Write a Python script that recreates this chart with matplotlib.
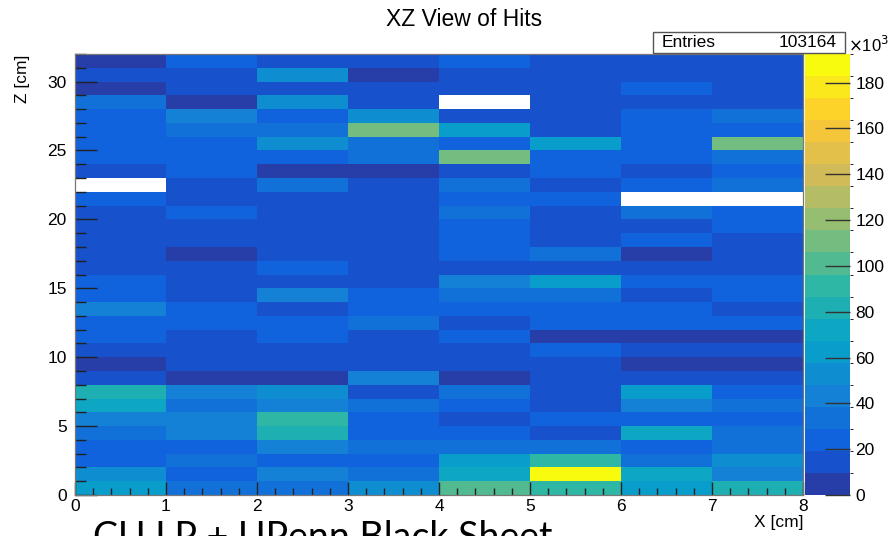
import numpy as np
import matplotlib
matplotlib.use("Agg")
import matplotlib.pyplot as plt
from matplotlib.colors import ListedColormap, BoundaryNorm

plt.rcParams['font.family'] = ['Liberation Sans', 'DejaVu Sans']

# bin edges (cm)
x_edges = np.arange(0, 9, 1)
z_edges = np.arange(0, 33, 1)

# hits per bin in units of 1e3, rows are z = 0 .. 31, columns x = 0 .. 7 (nan = empty bin)
nan = np.nan
hits = [
    [63, 34, 34, 53, 101, 91, 63, 82],      # z 0
    [53, 24, 43, 34, 72, 192.5, 72, 43],    # z 1
    [24, 34, 24, 24, 63, 91, 34, 53],       # z 2
    [24, 24, 43, 34, 34, 34, 24, 34],       # z 3
    [34, 43, 82, 24, 24, 14, 72, 34],       # z 4
    [43, 43, 91, 24, 14, 24, 24, 24],       # z 5
    [72, 34, 43, 34, 24, 14, 43, 34],       # z 6
    [82, 43, 53, 14, 34, 14, 63, 24],       # z 7
    [14, 5, 5, 43, 5, 14, 14, 14],          # z 8
    [5, 14, 14, 14, 14, 14, 5, 5],          # z 9
    [14, 14, 14, 14, 14, 24, 14, 14],       # z 10
    [24, 14, 24, 14, 24, 5, 5, 5],          # z 11
    [24, 24, 24, 34, 14, 24, 24, 24],       # z 12
    [43, 24, 14, 24, 24, 24, 24, 14],       # z 13
    [24, 14, 43, 24, 34, 34, 14, 24],       # z 14
    [24, 14, 14, 14, 43, 63, 24, 24],       # z 15
    [14, 14, 24, 14, 14, 14, 14, 14],       # z 16
    [14, 5, 14, 14, 24, 34, 5, 14],         # z 17
    [14, 14, 14, 14, 24, 14, 24, 14],       # z 18
    [14, 14, 14, 14, 24, 14, 14, 24],       # z 19
    [14, 24, 14, 14, 34, 14, 34, 24],       # z 20
    [24, 14, 14, 14, 24, 24, nan, nan],     # z 21
    [nan, 14, 34, 14, 34, 14, 24, 34],      # z 22
    [14, 24, 5, 5, 14, 24, 14, 24],         # z 23
    [24, 24, 24, 34, 111, 24, 24, 34],      # z 24
    [24, 24, 53, 34, 24, 63, 24, 111],      # z 25
    [24, 34, 34, 111, 63, 14, 24, 24],      # z 26
    [24, 43, 24, 53, 14, 14, 24, 34],       # z 27
    [34, 5, 53, 14, nan, 14, 14, 14],       # z 28
    [5, 14, 14, 14, 14, 14, 24, 14],        # z 29
    [14, 14, 53, 5, 14, 14, 14, 14],        # z 30
    [5, 24, 14, 14, 24, 14, 14, 14],        # z 31
]
entries = 103164
cbar_ticks = [0, 20, 40, 60, 80, 100, 120, 140, 160, 180]

# ROOT kBird palette, 20 contour levels
stops = [0.0, 0.125, 0.25, 0.375, 0.5, 0.625, 0.75, 0.875, 1.0]
red = [0.2082, 0.0592, 0.0780, 0.0232, 0.1802, 0.5301, 0.8186, 0.9956, 0.9764]
green = [0.1664, 0.3599, 0.5041, 0.6419, 0.7178, 0.7492, 0.7328, 0.7862, 0.9832]
blue = [0.5293, 0.8684, 0.8385, 0.7914, 0.6425, 0.4662, 0.3499, 0.1968, 0.0539]
ndiv = 20
cols = []
for k in range(ndiv):
    t = int((k + 0.99) * 255 / ndiv) / 254.0
    cols.append((np.interp(t, stops, red), np.interp(t, stops, green), np.interp(t, stops, blue)))
cmap = ListedColormap(cols)

data = np.ma.masked_invalid(np.array(hits, dtype=float))
zmax = data.max()
norm = BoundaryNorm(np.linspace(0, zmax, ndiv + 1), ndiv)

fig = plt.figure(figsize=(8.9, 5.36), dpi=100)
ax = fig.add_axes([75 / 890, 41 / 536, 728 / 890, 441 / 536])
mesh = ax.pcolormesh(x_edges, z_edges, data, cmap=cmap, norm=norm)
ax.set_xlim(0, 8)
ax.set_ylim(0, 32)

ax.set_xticks(np.arange(0, 9, 1))
ax.set_xticks(np.arange(0, 8.01, 0.2), minor=True)
ax.set_yticks(np.arange(0, 31, 5))
ax.set_yticks(np.arange(0, 33, 1), minor=True)
ax.tick_params(axis='x', which='major', direction='in', length=9.5, width=1, color='#222222',
               labelsize=12.5, pad=3)
ax.tick_params(axis='x', which='minor', direction='in', length=4.8, width=1, color='#222222')
ax.tick_params(axis='y', which='major', direction='in', length=16, width=1, color='#222222',
               labelsize=12.5, pad=6)
ax.tick_params(axis='y', which='minor', direction='in', length=8, width=1, color='#222222')
for s in ax.spines.values():
    s.set_color('#777777')
    s.set_linewidth(0.9)

fig.text(803 / 890, 1 - 523 / 536, 'X [cm]', ha='right', va='center', fontsize=12.5)
fig.text(22 / 890, 1 - 55 / 536, 'Z [cm]', ha='center', va='top', rotation=90, fontsize=12.5)
fig.text(464 / 890, 1 - 19 / 536, 'XZ View of Hits', ha='center', va='center', fontsize=16.5)

# colour palette on the right
cax = fig.add_axes([805 / 890, 41 / 536, 45 / 890, 441 / 536])
cb = fig.colorbar(mesh, cax=cax, ticks=cbar_ticks)
cb.outline.set_visible(False)
cax.tick_params(direction='in', length=18, width=1, color='#333333', labelsize=12.5, pad=4)
cax.set_yticklabels([str(v) for v in cbar_ticks])
fig.text(848 / 890, 1 - 45 / 536, r'$\times$10$^{3}$', ha='left', va='center', fontsize=12)

# stats box
fig.patches.append(plt.Rectangle((653 / 890, 1 - 53 / 536), 192 / 890, 21 / 536,
                                 transform=fig.transFigure, fill=False, edgecolor='#555555', lw=1))
fig.text(662 / 890, 1 - 42.5 / 536, 'Entries', ha='left', va='center', fontsize=12.5)
fig.text(837 / 890, 1 - 42.5 / 536, str(entries), ha='right', va='center', fontsize=12.5)

# slide caption, cut off by the bottom edge
fig.text(93 / 890, 1 - 549 / 536, 'CU LP + UPenn Black Sheet', ha='left', va='baseline',
         fontsize=27, family=['Lato', 'DejaVu Sans'])

fig.savefig('out.png', dpi=100)
